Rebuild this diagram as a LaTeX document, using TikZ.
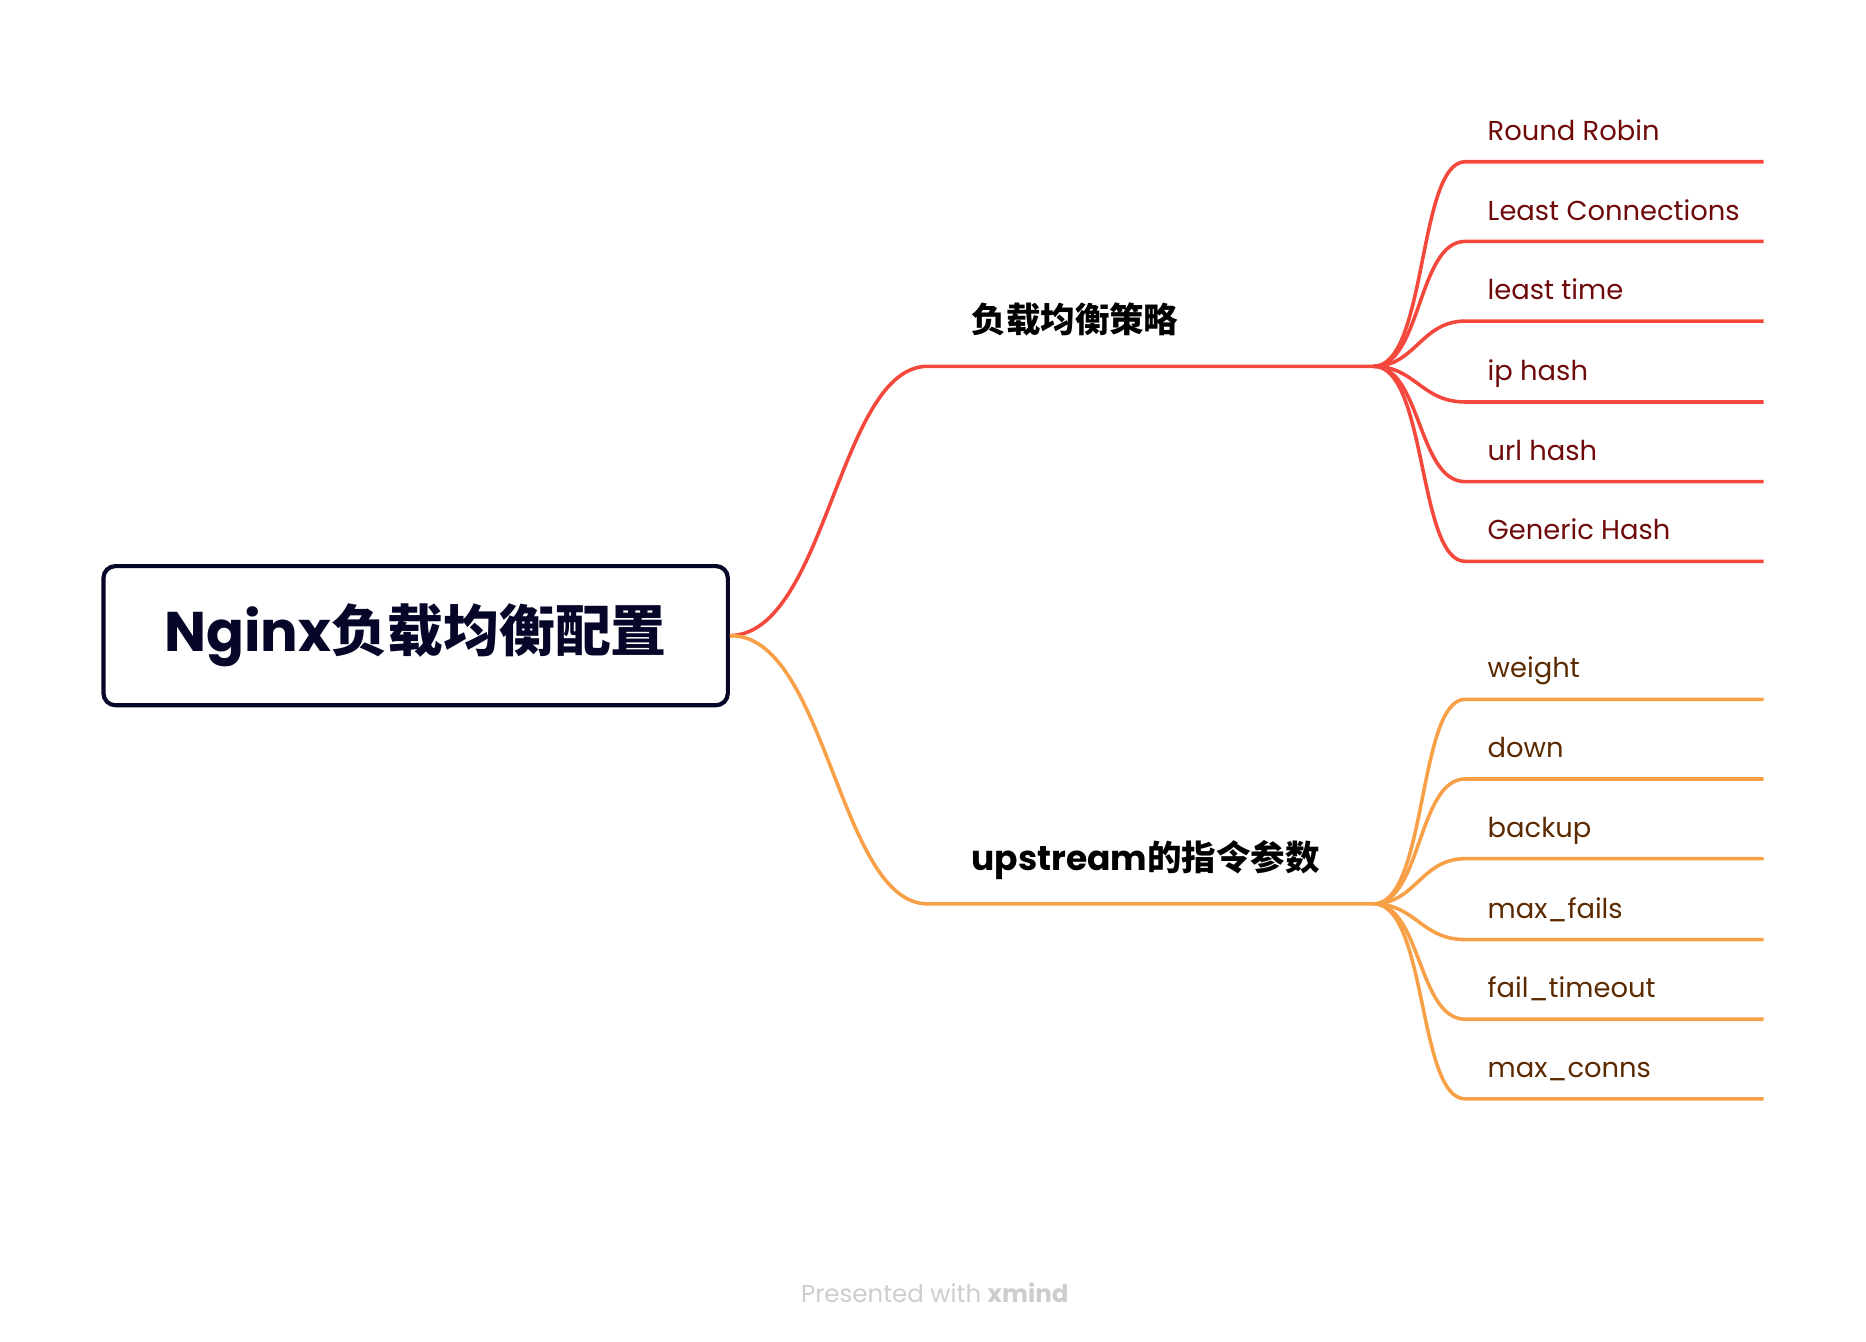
\documentclass[tikz,border=0pt]{standalone}
\usepackage{fontspec}
\setmainfont{Poppins}
\newfontfamily\cjk{Noto Sans CJK SC}
\usepackage{xcolor}
\definecolor{rootink}{RGB}{6,6,40}
\definecolor{redline}{RGB}{245,72,60}
\definecolor{orangeline}{RGB}{247,160,72}
\definecolor{redtext}{RGB}{110,10,10}
\definecolor{orangetext}{RGB}{92,42,0}
\definecolor{footgray}{RGB}{205,205,205}

\begin{document}
\begin{tikzpicture}[x=0.5pt,y=0.5pt,yscale=-1,xscale=1,
  leafred/.style={anchor=base west,inner sep=0.75pt,font=\fontsize{11.5}{13}\selectfont,text=redtext},
  leaforange/.style={anchor=base west,inner sep=0.75pt,font=\fontsize{11.5}{13}\selectfont,text=orangetext},
  branchlabel/.style={anchor=base west,inner sep=0.75pt,font=\fontsize{14.5}{16}\selectfont\bfseries,text=black}]
\useasboundingbox (0,0) rectangle (1569,1128);

%Shape: Rounded Rect [id:root]
\node (root) [draw=rootink,line width=1.75pt,rounded corners=5pt,minimum width=262.5pt,minimum height=58.5pt,inner sep=0pt,text=rootink,font=\fontsize{23.5}{26}\selectfont\bfseries] at (349.5,534.5) {Nginx{\cjk 负载均衡配置}};

% Text Node
\node (strategy) [branchlabel] at (815,280) {\cjk 负载均衡策略};
% Text Node
\node (params) [branchlabel] at (815,732) {upstream{\cjk 的指令参数}};

\coordinate (s0) at (780,308);
\coordinate (s1) at (1155,308);
\coordinate (p0) at (780,760);
\coordinate (p1) at (1155,760);

%Curve Lines: root to branches
\draw [redline,line width=1.5pt] (root.east) .. controls (695,533) and (705,308) .. (s0) -- (s1);
\draw [orangeline,line width=1.5pt] (root.east) .. controls (695,533) and (705,760) .. (p0) -- (p1);

% Text Node
\node (rr) [leafred] at (1249,118) {Round Robin};
\node (lc) [leafred] at (1249,185) {Least Connections};
\node (lt) [leafred] at (1249,252) {least time};
\node (iph) [leafred] at (1249,320) {ip hash};
\node (urlh) [leafred] at (1249,387) {url hash};
\node (gh) [leafred] at (1249,454) {Generic Hash};

% Text Node
\node (weight) [leaforange] at (1249,570) {weight};
\node (down) [leaforange] at (1249,637) {down};
\node (backup) [leaforange] at (1249,704) {backup};
\node (maxfails) [leaforange] at (1249,772) {max\_fails};
\node (failto) [leaforange] at (1249,839) {fail\_timeout};
\node (maxconns) [leaforange] at (1249,906) {max\_conns};

%Curve Lines: strategy leaves
\begin{scope}[redline,line width=1.5pt]
\draw (s1) .. controls (1200,308) and (1192,136) .. (1232,136) -- (1483,136);
\draw (s1) .. controls (1195,308) and (1192,203) .. (1232,203) -- (1483,203);
\draw (s1) .. controls (1190,308) and (1195,270) .. (1232,270) -- (1483,270);
\draw (s1) .. controls (1190,308) and (1195,338) .. (1232,338) -- (1483,338);
\draw (s1) .. controls (1195,308) and (1192,405) .. (1232,405) -- (1483,405);
\draw (s1) .. controls (1200,308) and (1192,472) .. (1232,472) -- (1483,472);
\end{scope}

%Curve Lines: parameter leaves
\begin{scope}[orangeline,line width=1.5pt]
\draw (p1) .. controls (1200,760) and (1192,588) .. (1232,588) -- (1483,588);
\draw (p1) .. controls (1195,760) and (1192,655) .. (1232,655) -- (1483,655);
\draw (p1) .. controls (1190,760) and (1195,722) .. (1232,722) -- (1483,722);
\draw (p1) .. controls (1190,760) and (1195,790) .. (1232,790) -- (1483,790);
\draw (p1) .. controls (1195,760) and (1192,857) .. (1232,857) -- (1483,857);
\draw (p1) .. controls (1200,760) and (1192,924) .. (1232,924) -- (1483,924);
\end{scope}

% Text Node
\node (footer) [anchor=base,inner sep=0.75pt,font=\fontsize{10.3}{12}\selectfont,text=footgray] at (786,1095) {Presented with \textbf{xmind}};
\end{tikzpicture}
\end{document}
